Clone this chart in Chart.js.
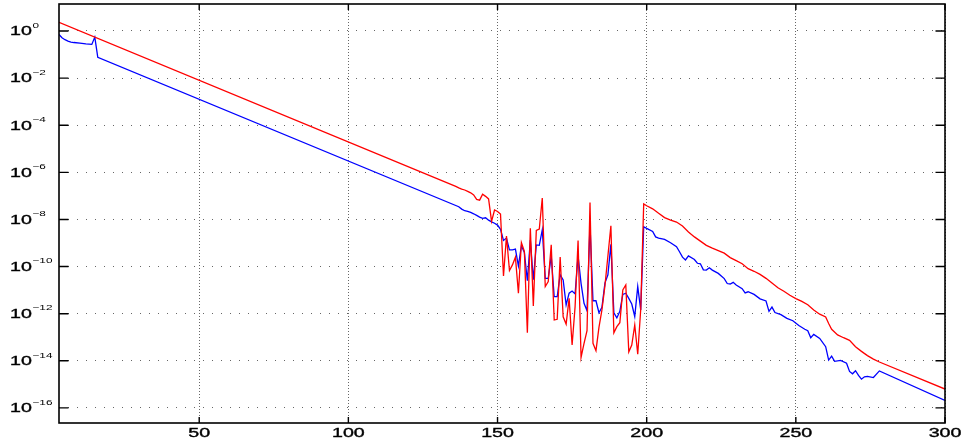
<!DOCTYPE html>
<html>
<head>
<meta charset="utf-8">
<style>
  html, body { margin: 0; padding: 0; background: #fff; }
  #wrap { width: 962px; height: 444px; }
</style>
<script src="https://cdn.jsdelivr.net/npm/chart.js@4.4.1/dist/chart.umd.min.js"></script>
</head>
<body>
<div id="wrap"><canvas id="c" width="962" height="444"></canvas></div>
<script>
// Axis ticks
const xTicks = [50, 100, 150, 200, 250, 300];
const yTickExps = [0, -2, -4, -6, -8, -10, -12, -14, -16];

// Red series: iteration and log10 of the value
const redIter = [3, 136, 137, 138, 139, 140, 141, 142, 143, 144, 145, 146, 147, 148, 149, 150, 151,
  152, 153, 154, 155, 156, 157, 158, 159, 160, 161, 162, 163, 164, 165, 166, 167, 168, 169, 170,
  171, 172, 173, 174, 175, 176, 177, 178, 179, 180, 181, 182, 183, 184, 185, 186, 187, 188, 189,
  190, 191, 192, 193, 194, 195, 196, 197, 198, 199, 200,
  202, 204, 206, 208, 210, 212, 214, 216, 218, 220, 222, 224, 226, 228, 230, 232, 234, 236, 238,
  240, 242, 244, 246, 248, 250, 252, 254, 256, 258, 260, 261, 262, 264, 266, 268, 270, 272, 274,
  276, 278, 300];
const redLog10 = [0.37, -6.60, -6.66, -6.71, -6.75, -6.81, -6.87, -6.96, -7.15, -7.18, -6.93, -7.02, -7.13, -8.08, -7.60, -7.66, -7.77,
  -10.40, -8.70, -10.17, -9.93, -9.60, -11.13, -8.98, -9.36, -12.81, -8.37, -11.67, -8.47, -8.41, -7.09, -10.85, -10.64, -9.08, -12.27, -12.24,
  -9.60, -12.13, -12.44, -11.35, -13.33, -11.70, -8.89, -13.86, -13.26, -12.72, -7.28, -13.26, -13.57, -12.58, -11.84, -10.82, -9.55, -8.27, -12.81,
  -12.55, -12.38, -10.99, -10.78, -13.62, -13.33, -12.48, -13.72, -11.82, -7.34, -7.42,
  -7.55, -7.74, -7.92, -8.03, -8.11, -8.28, -8.53, -8.74, -8.92, -9.10, -9.22, -9.32, -9.43, -9.62, -9.75, -9.88, -10.09, -10.20, -10.33,
  -10.50, -10.70, -10.90, -11.05, -11.22, -11.36, -11.48, -11.62, -11.84, -12.02, -12.14, -12.42, -12.66, -12.90, -13.02, -13.13, -13.40, -13.60, -13.78,
  -13.93, -14.05, -15.20];

// Blue series: iteration and log10 of the value
const blueIter = [3, 4, 5, 6, 7, 8, 10, 12, 14, 15, 16, 137, 138, 139, 140, 141, 142, 143, 144, 145, 146, 147, 148, 149, 150, 151,
  152, 153, 154, 155, 156, 157, 158, 159, 160, 161, 162, 163, 164, 165, 166, 167, 168, 169, 170,
  171, 172, 173, 174, 175, 176, 177, 178, 179, 180, 181, 182, 183, 184, 185, 186, 187, 188, 189,
  190, 191, 192, 193, 194, 195, 196, 197, 198, 199, 200,
  202, 203, 204, 206, 208, 210, 211, 212, 213, 214, 216, 217, 218, 219, 220, 221, 222, 224, 226, 227, 228, 229, 230,
  232, 233, 234, 236, 238, 240, 241, 242, 243, 245, 247, 249, 251, 253, 254, 255, 256, 258, 260, 261, 262, 263,
  265, 267, 268, 269, 270, 271, 272, 273, 274, 276, 278, 300];
const blueLog10 = [-0.15, -0.29, -0.37, -0.43, -0.47, -0.49, -0.52, -0.55, -0.57, -0.26, -1.12, -7.46, -7.56, -7.63, -7.66, -7.70, -7.76, -7.83, -7.90, -7.95, -7.93, -8.03, -8.10, -8.16, -8.24, -8.42,
  -8.89, -8.79, -9.29, -9.29, -9.26, -9.97, -9.12, -9.40, -10.60, -8.87, -10.56, -9.08, -9.10, -8.44, -10.50, -10.50, -9.55, -11.28, -11.28,
  -10.35, -10.57, -11.63, -11.13, -11.04, -11.16, -9.55, -10.71, -11.56, -11.87, -8.23, -11.45, -11.45, -11.96, -11.73, -10.70, -10.35, -9.06, -11.96,
  -12.18, -11.90, -11.18, -11.13, -11.35, -11.59, -12.12, -10.85, -11.84, -8.31, -8.38,
  -8.51, -8.74, -8.79, -8.85, -8.99, -9.16, -9.37, -9.60, -9.72, -9.55, -9.70, -9.86, -9.88, -10.14, -10.15, -10.05, -10.15, -10.29, -10.51, -10.72, -10.74, -10.67, -10.78,
  -10.94, -11.12, -11.07, -11.18, -11.37, -11.46, -11.90, -11.72, -11.95, -12.04, -12.20, -12.30, -12.50, -12.66, -12.72, -13.02, -12.88, -13.05, -13.40, -13.97, -13.80, -14.02,
  -13.98, -14.10, -14.45, -14.55, -14.42, -14.62, -14.78, -14.68, -14.66, -14.71, -14.43, -15.68];

const toPoints = (xs, ls) => xs.map((x, i) => ({ x: x, y: Math.pow(10, ls[i]) }));

const FONT = '"Liberation Sans", Arial, Helvetica, sans-serif';
const STRETCH = 1.57;   // wide lettering of the tick labels

// Writes text and goes over it once more with a hairline so the glyphs read a little heavier
function heavyText(ctx, text, x, y) {
  ctx.fillText(text, x, y);
  ctx.strokeText(text, x, y);
}

// Box, inward ticks and tick labels
const framePlugin = {
  id: 'frame',
  afterDatasetsDraw(chart) {
    const { ctx, chartArea: a, scales: { x, y } } = chart;
    ctx.save();
    ctx.strokeStyle = '#000';
    ctx.lineWidth = 1.6;
    ctx.strokeRect(a.left, a.top, a.right - a.left, a.bottom - a.top);

    ctx.lineWidth = 1.4;
    ctx.beginPath();
    x.ticks.forEach(t => {
      const px = x.getPixelForValue(t.value);
      ctx.moveTo(px, a.bottom); ctx.lineTo(px, a.bottom - 6);
      ctx.moveTo(px, a.top); ctx.lineTo(px, a.top + 6);
    });
    y.ticks.forEach(t => {
      const py = y.getPixelForValue(t.value);
      ctx.moveTo(a.left, py); ctx.lineTo(a.left + 9.5, py);
      ctx.moveTo(a.right, py); ctx.lineTo(a.right - 9.5, py);
    });
    ctx.stroke();

    ctx.fillStyle = '#000';
    ctx.strokeStyle = '#000';
    ctx.lineWidth = 0.35;
    ctx.textBaseline = 'alphabetic';
    // x labels
    x.ticks.forEach(t => {
      const px = x.getPixelForValue(t.value);
      ctx.save();
      ctx.translate(px, a.bottom + 14.3);
      ctx.scale(STRETCH, 1);
      ctx.font = '12.5px ' + FONT;
      ctx.textAlign = 'center';
      heavyText(ctx, String(t.value), 0, 0);
      ctx.restore();
    });
    // y labels: 10 with raised exponent
    yTickExps.forEach(e => {
      const py = y.getPixelForValue(Math.pow(10, e));
      ctx.save();
      ctx.translate(10, py + 4.4);
      ctx.scale(STRETCH, 1);
      ctx.textAlign = 'left';
      ctx.font = '12.5px ' + FONT;
      heavyText(ctx, '10', 0, 0);
      const w = ctx.measureText('10').width;
      ctx.font = '7.5px ' + FONT;
      ctx.fillText(e === 0 ? '0' : '\u2212' + Math.abs(e), w + 0.4, -7.6);
      ctx.restore();
    });
    ctx.restore();
  }
};

new Chart(document.getElementById('c'), {
  type: 'line',
  data: {
    datasets: [
      { data: toPoints(redIter, redLog10), borderColor: '#ff0000', borderWidth: 1.3 },
      { data: toPoints(blueIter, blueLog10), borderColor: '#0000ff', borderWidth: 1.3 }
    ]
  },
  options: {
    responsive: false,
    devicePixelRatio: 1,
    animation: false,
    layout: { padding: { left: 0, right: 17, top: 4, bottom: 0 } },
    elements: { point: { radius: 0 }, line: { tension: 0 } },
    plugins: { legend: { display: false }, tooltip: { enabled: false } },
    scales: {
      x: {
        type: 'linear',
        min: 3,
        max: 300,
        afterBuildTicks: s => { s.ticks = xTicks.map(v => ({ value: v })); },
        afterFit: s => { s.height = 21; },
        ticks: { display: false },
        grid: { color: 'rgba(0,0,0,0.6)', lineWidth: 1, drawTicks: false },
        border: { display: false, dash: [1, 2] }
      },
      y: {
        type: 'logarithmic',
        min: Math.pow(10, -16.64),
        max: Math.pow(10, 1.145),
        afterBuildTicks: s => { s.ticks = yTickExps.map(e => ({ value: Math.pow(10, e) })); },
        afterFit: s => { s.width = 59; },
        ticks: { display: false },
        grid: { color: 'rgba(0,0,0,0.6)', lineWidth: 1, drawTicks: false },
        border: { display: false, dash: [1, 8] }
      }
    }
  },
  plugins: [framePlugin]
});
</script>
</body>
</html>
